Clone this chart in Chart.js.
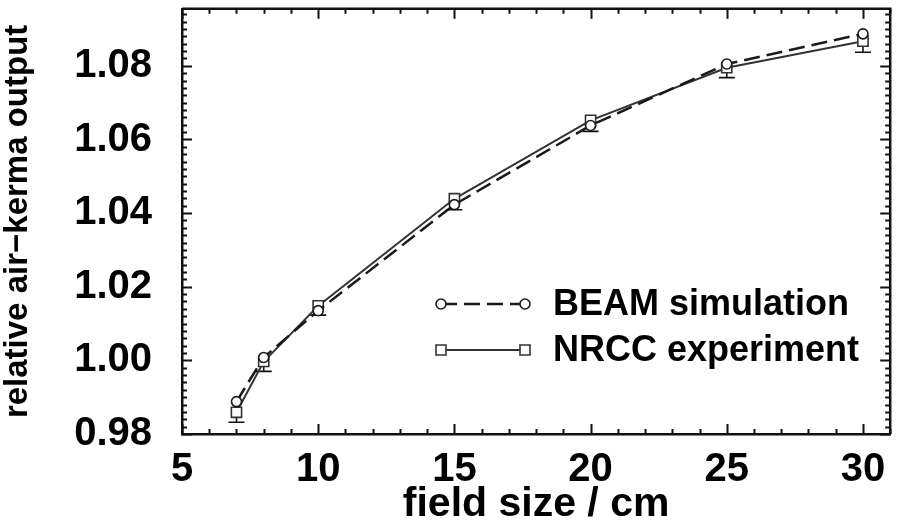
<!DOCTYPE html>
<html><head><meta charset="utf-8">
<script src="https://cdn.jsdelivr.net/npm/chart.js@4/dist/chart.umd.min.js"></script>
<style>html,body{margin:0;padding:0;background:#fff}#wrap{width:899px;height:527px}</style>
</head><body><div id="wrap"><canvas id="c" width="899" height="527"></canvas></div>
<script>
const fieldSizes = [7, 8, 10, 15, 20, 25, 30];
const beamValues = [0.9888, 1.0008, 1.0135, 1.0423, 1.0638, 1.0805, 1.0887];
const nrccValues = [0.9859, 0.9997, 1.0148, 1.0439, 1.0652, 1.0795, 1.0867];
const nrccLowerErrors = [0.0027, 0.0027, 0.0025, 0.0030, 0.0030, 0.0027, 0.0030];
const xTickValues = [5, 10, 15, 20, 25, 30];
const yTickValues = [0.98, 1.00, 1.02, 1.04, 1.06, 1.08];
const seriesNames = ['BEAM simulation', 'NRCC experiment'];
const xTitle = 'field size / cm';
const yTitle = 'relative air\u2212kerma output';

const FONT = "'Liberation Sans', Arial, Helvetica, sans-serif";
const INK = '#111';

const framePlugin = {
  id: 'framePlugin',
  beforeDatasetsDraw(chart) {
    const {ctx, scales: {x, y}} = chart;
    ctx.save();
    ctx.strokeStyle = INK;
    ctx.lineWidth = 1.6;
    fieldSizes.forEach((f, i) => {
      const px = x.getPixelForValue(f);
      const mid = y.getPixelForValue(nrccValues[i]);
      const lo = y.getPixelForValue(nrccValues[i] - nrccLowerErrors[i]);
      ctx.beginPath();
      ctx.moveTo(px, mid); ctx.lineTo(px, lo);
      ctx.moveTo(px - 8, lo); ctx.lineTo(px + 8, lo);
      ctx.stroke();
    });
    ctx.restore();
  },
  afterDraw(chart) {
    const {ctx, chartArea: a, scales: {x, y}} = chart;
    ctx.save();
    ctx.strokeStyle = INK;
    ctx.lineWidth = 2.5;
    ctx.beginPath();
    ctx.moveTo(a.left, a.top); ctx.lineTo(a.right, a.top); ctx.lineTo(a.right, a.bottom);
    ctx.stroke();
    ctx.lineWidth = 2;
    ctx.beginPath();
    for (let v = 5; v <= 31; v++) {
      const px = Math.round(x.getPixelForValue(v)) + 0.5;
      const len = v % 5 === 0 ? 10 : 5;
      ctx.moveTo(px, a.bottom); ctx.lineTo(px, a.bottom - len);
      ctx.moveTo(px, a.top); ctx.lineTo(px, a.top + len);
    }
    for (let k = 490; k <= 547; k++) {
      const py = Math.round(y.getPixelForValue(k / 500)) + 0.5;
      const len = k % 10 === 0 ? 10 : 5;
      ctx.moveTo(a.left, py); ctx.lineTo(a.left + len, py);
      ctx.moveTo(a.right, py); ctx.lineTo(a.right - len, py);
    }
    ctx.stroke();

    // legend
    const ds = chart.data.datasets;
    const rows = [304, 350];
    const x0 = 441, x1 = 525;
    ds.forEach((d, i) => {
      const yy = rows[i];
      ctx.strokeStyle = d.borderColor;
      ctx.lineWidth = d.borderWidth;
      ctx.setLineDash(d.borderDash || []);
      ctx.beginPath();
      ctx.moveTo(x0, yy); ctx.lineTo(x1, yy);
      ctx.stroke();
      ctx.setLineDash([]);
      [x0, x1].forEach(px => {
        ctx.fillStyle = '#fff';
        ctx.strokeStyle = d.pointBorderColor;
        ctx.lineWidth = d.pointBorderWidth;
        ctx.beginPath();
        if (d.pointStyle === 'rect') {
          ctx.rect(px - 5, yy - 5, 10, 10);
        } else {
          ctx.arc(px, yy, 5, 0, Math.PI * 2);
        }
        ctx.fill(); ctx.stroke();
      });
      ctx.fillStyle = '#000';
      ctx.font = 'bold 36px ' + FONT;
      ctx.textAlign = 'left';
      ctx.textBaseline = 'middle';
      ctx.fillText(d.label, 553, yy + 1);
    });
    ctx.restore();
  }
};

new Chart(document.getElementById('c'), {
  type: 'line',
  data: {
    datasets: [
      {
        label: seriesNames[0],
        data: fieldSizes.map((f, i) => ({x: f, y: beamValues[i]})),
        borderColor: '#1a1a1a',
        borderWidth: 2.5,
        borderDash: [16, 7],
        pointStyle: 'circle',
        pointRadius: 5,
        pointBackgroundColor: '#fff',
        pointBorderColor: '#1a1a1a',
        pointBorderWidth: 1.6,
        tension: 0
      },
      {
        label: seriesNames[1],
        data: fieldSizes.map((f, i) => ({x: f, y: nrccValues[i]})),
        borderColor: '#333',
        borderWidth: 2,
        pointStyle: 'rect',
        pointRadius: 7.2,
        pointBackgroundColor: '#fff',
        pointBorderColor: '#333',
        pointBorderWidth: 1.6,
        tension: 0
      }
    ]
  },
  options: {
    responsive: false,
    devicePixelRatio: 1,
    animation: false,
    layout: {padding: {top: 5, right: 1, left: 0, bottom: 0}},
    plugins: {legend: {display: false}, tooltip: {enabled: false}},
    scales: {
      x: {
        type: 'linear',
        min: 5, max: 31,
        afterBuildTicks: s => { s.ticks = xTickValues.map(v => ({value: v})); },
        afterFit: s => { s.height = 93; s.paddingLeft = 0; s.paddingRight = 0; },
        grid: {display: false},
        border: {display: true, color: INK, width: 2.5},
        ticks: {
          color: '#000',
          padding: 4,
          maxRotation: 0,
          font: {family: FONT, size: 40, weight: 'bold'},
          callback: v => String(v)
        },
        title: {
          display: true, text: xTitle, color: '#000',
          font: {family: FONT, size: 41, weight: 'bold', lineHeight: 1.1},
          padding: {top: 0, bottom: 0}
        }
      },
      y: {
        type: 'linear',
        min: 0.98, max: 1.0955,
        afterBuildTicks: s => { s.ticks = yTickValues.map(v => ({value: v})); },
        afterFit: s => { s.width = 182; s.paddingTop = 0; s.paddingBottom = 0; },
        grid: {display: false},
        border: {display: true, color: INK, width: 2.5},
        ticks: {
          color: '#000',
          padding: 22,
          font: {family: FONT, size: 40, weight: 'bold'},
          callback: v => Number(v).toFixed(2)
        },
        title: {
          display: true, text: yTitle, color: '#000',
          font: {family: FONT, size: 33, weight: 'bold', lineHeight: 1.1},
          padding: {top: 0, bottom: 0}
        }
      }
    }
  },
  plugins: [framePlugin]
});
</script>
</body></html>
